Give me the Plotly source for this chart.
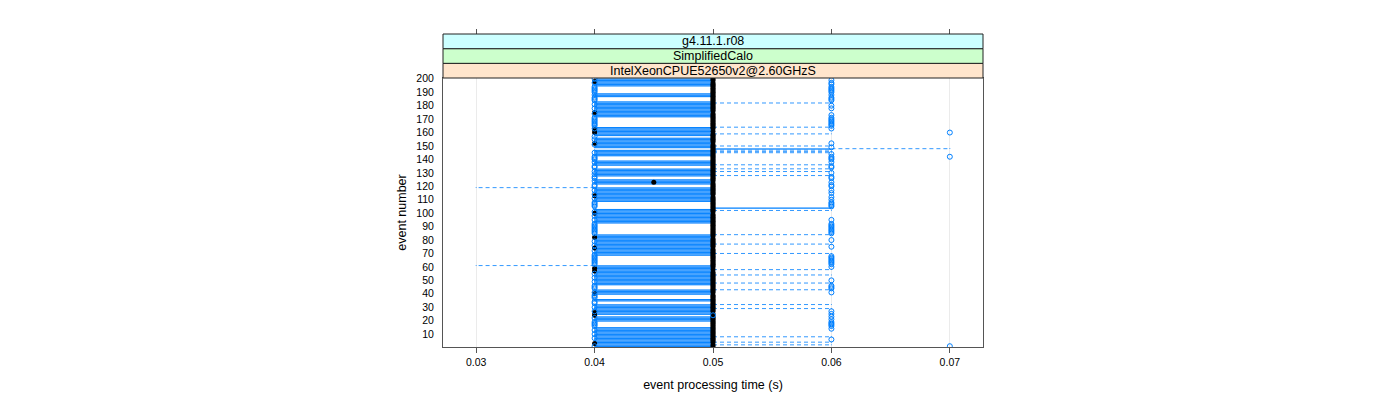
import plotly.graph_objects as go

# ---------------- data ----------------
event_numbers = list(range(1, 201))
x_ticks = [0.03, 0.04, 0.05, 0.06, 0.07]
x_tick_labels = ["0.03", "0.04", "0.05", "0.06", "0.07"]
y_ticks = [10, 20, 30, 40, 50, 60, 70, 80, 90, 100, 110, 120, 130, 140, 150, 160, 170, 180, 190, 200]
strip_labels = ["IntelXeonCPUE52650v2@2.60GHzS", "SimplifiedCalo", "g4.11.1.r08"]

# Typical event: box 0.04-0.05, median 0.05. Exceptions below.
collapsed_at_005 = [194, 193, 192, 191, 190, 186, 185, 184, 171, 170, 169, 168, 167, 166, 165,
                    157, 142, 141, 140, 135, 134, 127, 126, 121, 120, 108, 107, 106, 105,
                    92, 91, 90, 89, 88, 87, 86, 85, 68, 67, 66, 65, 64, 63, 62,
                    46, 45, 44, 39, 38, 37, 34, 33, 19, 18, 17, 16]
collapsed_at_004 = [24]
box_005_006 = [104, 148]
median_004 = [198, 175, 162, 160, 152, 113, 100, 82, 74, 59, 57, 40, 26, 3]
median_0045 = [123]
lower_whisker_003 = [119, 61]
upper_whisker_006 = [182, 164, 159, 150, 147, 146, 145, 136, 133, 131, 128, 102,
                     84, 77, 70, 58, 54, 48, 43, 32, 29, 8, 4, 2]
upper_whisker_007 = [148]

outliers_004 = [194, 193, 192, 191, 190, 186, 185, 184, 171, 170, 169, 168, 167, 166, 165,
                157, 142, 141, 140, 135, 134, 127, 126, 121, 120, 108, 107, 106, 105,
                92, 91, 90, 89, 88, 87, 86, 85, 68, 67, 66, 65, 64, 63, 62,
                46, 45, 44, 39, 38, 37, 34, 33, 19, 18, 17, 16,
                200, 197, 188, 181, 178, 174, 163, 155, 151, 145, 138, 131, 129, 124,
                117, 114, 111, 101, 98, 95, 79, 76, 72, 69, 55, 52, 49, 41, 30, 27,
                22, 13, 10, 7, 1]
outliers_005 = [24]
outliers_006 = [194, 193, 192, 191, 190, 186, 185, 184, 171, 170, 169, 168, 167, 166, 165,
                142, 141, 140, 135, 134, 127, 126, 121, 120, 108, 107, 106, 105,
                92, 91, 90, 89, 88, 87, 86, 85, 68, 67, 66, 65, 64, 63, 62,
                46, 45, 44, 19, 18, 17, 16,
                199, 197, 196, 188, 180, 178, 173, 163, 152, 149, 144, 138, 130, 123,
                117, 115, 112, 110, 95, 80, 75, 60, 50, 41, 27, 25, 23, 21, 14, 6]
outliers_007 = [160, 142, 1]

# ---------------- build statistics ----------------
BLUE = "#0080ff"
stats = []
for e in event_numbers:
    lo, med, hi = 0.04, 0.05, 0.05
    if e in collapsed_at_005:
        lo, med, hi = 0.05, 0.05, 0.05
    if e in collapsed_at_004:
        lo, med, hi = 0.04, 0.04, 0.04
    if e in box_005_006:
        lo, hi = 0.05, 0.06
    if e in median_004:
        med = 0.04
    if e in median_0045:
        med = 0.045
    wlo, whi = lo, hi
    if e in lower_whisker_003:
        wlo = 0.03
    if e in upper_whisker_006:
        whi = 0.06
    if e in upper_whisker_007:
        whi = 0.07
    stats.append((e, wlo, lo, med, hi, whi))

h = 0.25
box_x, box_y = [], []
wh_x, wh_y = [], []
st_x, st_y = [], []
med_x, med_y = [], []
for e, wlo, lo, med, hi, whi in stats:
    box_x += [lo, hi, hi, lo, lo, None]
    box_y += [e - h, e - h, e + h, e + h, e - h, None]
    if whi > hi:
        wh_x += [hi, whi, None]
        wh_y += [e, e, None]
    if wlo < lo:
        wh_x += [lo, wlo, None]
        wh_y += [e, e, None]
    for v in (wlo, whi):
        st_x += [v, v, None]
        st_y += [e - h, e + h, None]
    med_x.append(med)
    med_y.append(e)

out_x, out_y = [], []
for val, evs in ((0.04, outliers_004), (0.05, outliers_005), (0.06, outliers_006), (0.07, outliers_007)):
    for e in evs:
        out_x.append(val)
        out_y.append(e)

fig = go.Figure()
fig.add_trace(go.Scatter(x=box_x, y=box_y, mode="lines", line=dict(color=BLUE, width=0.8),
                         hoverinfo="skip"))
fig.add_trace(go.Scatter(x=wh_x, y=wh_y, mode="lines",
                         line=dict(color="#3399ff", width=1, dash="4px,3px"),
                         hoverinfo="skip"))
fig.add_trace(go.Scatter(x=st_x, y=st_y, mode="lines", line=dict(color=BLUE, width=1),
                         hoverinfo="skip"))
fig.add_trace(go.Scatter(x=med_x, y=med_y, mode="markers",
                         marker=dict(color="black", size=5, line=dict(width=0)), hoverinfo="skip"))
fig.add_trace(go.Scatter(x=out_x, y=out_y, mode="markers",
                         marker=dict(symbol="circle-open", color=BLUE, size=5, line=dict(width=1, color=BLUE)),
                         hoverinfo="skip"))
# carrier for top tick axis
fig.add_trace(go.Scatter(x=[0.05], y=[100], xaxis="x2", yaxis="y", mode="markers",
                         marker=dict(opacity=0), hoverinfo="skip"))

FONT = "Liberation Sans, Arial, Helvetica, sans-serif"
PAPER_H = 313.0
panel_top = 269.0 / PAPER_H
strip_h = 14.67 / PAPER_H
strip_colors = ["#ffe5cc", "#ccffcc", "#ccffff"]
shapes, annotations = [], []
for i, (lab, col) in enumerate(zip(strip_labels, strip_colors)):
    y0 = panel_top + i * strip_h
    y1 = min(1.0, panel_top + (i + 1) * strip_h)
    shapes.append(dict(type="rect", xref="paper", yref="paper", x0=0, x1=1, y0=y0, y1=y1,
                       fillcolor=col, line=dict(color="#222222", width=1), layer="above"))
    annotations.append(dict(x=0.5, y=(y0 + y1) / 2, xref="paper", yref="paper", text=lab,
                            showarrow=False, font=dict(family=FONT, size=12.5, color="black"),
                            xanchor="center", yanchor="middle"))

xr = [0.0272, 0.0728]
fig.update_layout(
    width=1400, height=400,
    margin=dict(l=435, r=425, t=26, b=61, pad=0),
    plot_bgcolor="white", paper_bgcolor="white",
    showlegend=False,
    font=dict(family=FONT, size=10.5, color="black"),
    shapes=shapes, annotations=annotations,
    xaxis=dict(range=xr, tickvals=x_ticks, ticktext=x_tick_labels, ticks="outside", ticklen=5,
               tickcolor="#555555", showline=True, mirror=True, linecolor="#555555", linewidth=1,
               showgrid=True, gridcolor="#ebebeb", gridwidth=1, zeroline=False,
               tickfont=dict(size=10.5),
               title=dict(text="event processing time (s)", font=dict(size=12.5), standoff=13)),
    xaxis2=dict(range=xr, tickvals=x_ticks, overlaying="x", anchor="free", position=1, side="top",
                showticklabels=False, ticks="outside", ticklen=5, tickcolor="#555555",
                showgrid=False, showline=False, zeroline=False),
    yaxis=dict(domain=[0, panel_top], range=[0.4, 200.6], tickvals=y_ticks, ticks="",
               showline=True, mirror=True, linecolor="#555555", linewidth=1,
               showgrid=False, zeroline=False, ticklabelstandoff=6, tickfont=dict(size=10.5),
               title=dict(text="event number", font=dict(size=12.5), standoff=6)),
)

fig.write_html("out.html")
